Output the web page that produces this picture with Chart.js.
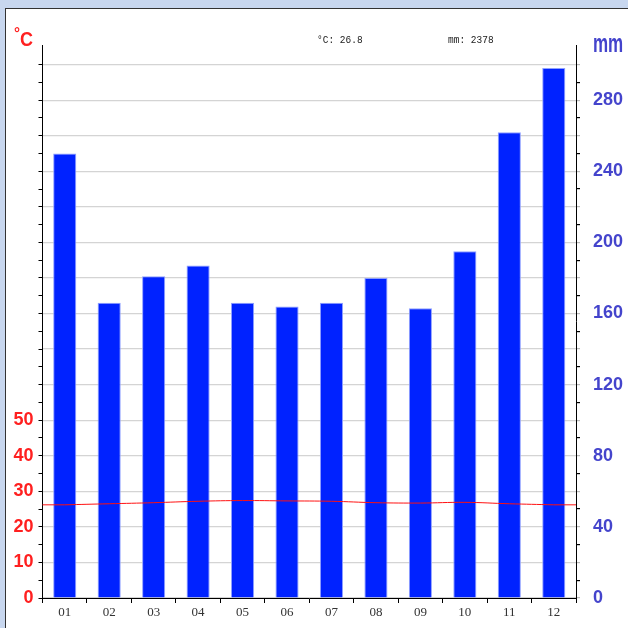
<!DOCTYPE html>
<html>
<head>
<meta charset="utf-8">
<title>Climate chart</title>
<script src="https://cdn.jsdelivr.net/npm/chart.js@4/dist/chart.umd.min.js"></script>
<style>
  html, body { margin: 0; padding: 0; }
  body { width: 628px; height: 628px; background: #c8d7ef; position: relative; overflow: hidden; }
  #panel { position: absolute; left: 5px; top: 8px; right: 0; bottom: 0; background: #fff;
           border-left: 1px solid #333; border-top: 1px solid #333; }
  #climate-chart { position: absolute; left: 0; top: 0; }
</style>
</head>
<body>
<div id="panel"></div>
<canvas id="climate-chart" width="628" height="628"></canvas>
<script>
'use strict';

// Data
var months = ['01', '02', '03', '04', '05', '06', '07', '08', '09', '10', '11', '12'];
var rainfall = [250, 166, 181, 187, 166, 164, 166, 180, 163, 195, 262, 298];
var temperature = [26.2, 26.5, 26.8, 27.2, 27.4, 27.3, 27.2, 26.8, 26.7, 26.9, 26.5, 26.2];
var tempLabels = [0, 10, 20, 30, 40, 50];
var rainLabels = [0, 40, 80, 120, 160, 200, 240, 280];

var totalRain = 0;
var sumTemp = 0;
for (var i = 0; i < months.length; i++) {
  totalRain += rainfall[i];
  sumTemp += temperature[i];
}
var meanTemp = (sumTemp / months.length).toFixed(1);

var labelFont = { family: "'Liberation Sans', Arial, sans-serif", size: 18, weight: 'bold' };

// Titles, summary and the flat ends of the temperature line
var extrasPlugin = {
  id: 'extras',
  afterDatasetsDraw: function(chart) {
    var c = chart.ctx;
    var area = chart.chartArea;
    var pts = chart.getDatasetMeta(1).data;
    c.save();
    c.strokeStyle = '#ff1010';
    c.lineWidth = 1;
    c.beginPath();
    c.moveTo(area.left, pts[0].y);
    c.lineTo(pts[0].x, pts[0].y);
    c.moveTo(pts[pts.length - 1].x, pts[pts.length - 1].y);
    c.lineTo(area.right, pts[pts.length - 1].y);
    c.stroke();
    c.restore();
  },
  afterDraw: function(chart) {
    var c = chart.ctx;
    c.save();
    c.textBaseline = 'alphabetic';

    // °C title
    c.fillStyle = '#ff2020';
    c.font = "bold 15px 'Liberation Sans', sans-serif";
    c.fillText('\u00b0', 14, 38);
    c.font = "bold 20px 'Liberation Sans', sans-serif";
    c.save();
    c.translate(20, 46);
    c.scale(0.9, 1.05);
    c.fillText('C', 0, 0);
    c.restore();

    // mm title
    c.fillStyle = '#4444cc';
    c.font = "bold 17px 'Liberation Sans', sans-serif";
    c.save();
    c.translate(593, 52);
    c.scale(1, 1.5);
    c.fillText('mm', 0, 0);
    c.restore();

    // summary line
    c.fillStyle = '#222';
    c.font = "9.5px 'Liberation Mono', monospace";
    c.save();
    c.translate(317, 43);
    c.scale(1, 1.2);
    c.fillText('\u00b0C: ' + meanTemp, 0, 0);
    c.restore();
    c.save();
    c.translate(448, 43);
    c.scale(1, 1.2);
    c.fillText('mm: ' + totalRain, 0, 0);
    c.restore();
    c.restore();
  }
};

var ctx = document.getElementById('climate-chart').getContext('2d');

var climateChart = new Chart(ctx, {
  type: 'bar',
  data: {
    labels: months,
    datasets: [
      {
        label: 'mm',
        data: rainfall,
        yAxisID: 'y1',
        backgroundColor: '#0022ff',
        borderColor: '#8fa0ff',
        borderWidth: 1,
        categoryPercentage: 1,
        barPercentage: 0.52,
        order: 1
      },
      {
        type: 'line',
        label: '°C',
        data: temperature,
        yAxisID: 'y',
        borderColor: '#ff1010',
        borderWidth: 1,
        pointRadius: 0,
        tension: 0.4,
        fill: false,
        order: 0
      }
    ]
  },
  options: {
    responsive: false,
    animation: false,
    layout: { padding: { top: 45, left: 0, right: 0, bottom: 0 } },
    plugins: {
      legend: { display: false },
      tooltip: { enabled: false }
    },
    scales: {
      x: {
        offset: true,
        afterFit: function(scale) { scale.height = 30; },
        border: { color: '#000', width: 1 },
        grid: { offset: true, drawOnChartArea: false, tickLength: 5, tickColor: '#000' },
        ticks: {
          color: '#333',
          padding: 2,
          font: { family: "'Liberation Serif', serif", size: 13 }
        }
      },
      y: {
        position: 'left',
        min: 0,
        max: 155.5,
        afterFit: function(scale) { scale.width = 42.5; },
        afterBuildTicks: function(scale) {
          scale.ticks = scale.ticks.filter(function(t) { return t.value <= 150; });
        },
        border: { color: '#000', width: 1 },
        grid: { drawOnChartArea: false, tickLength: 4, tickColor: '#000' },
        ticks: {
          stepSize: 5,
          autoSkip: false,
          padding: 5,
          color: '#ff2020',
          font: labelFont,
          callback: function(value) {
            return tempLabels.indexOf(value) >= 0 ? String(value) : '';
          }
        }
      },
      y1: {
        position: 'right',
        min: 0,
        max: 311,
        afterFit: function(scale) { scale.width = 52; },
        afterBuildTicks: function(scale) {
          scale.ticks = scale.ticks.filter(function(t) { return t.value <= 300; });
        },
        border: { color: '#000', width: 1 },
        grid: {
          drawOnChartArea: true,
          tickLength: 4,
          lineWidth: 1.2,
          color: function(c) {
            return c.tick && c.tick.value % 20 === 0 ? '#d4d4d4' : 'rgba(0,0,0,0)';
          },
          tickColor: function(c) {
            return c.tick && c.tick.value % 20 === 0 ? '#bbbbbb' : '#000';
          }
        },
        ticks: {
          stepSize: 10,
          autoSkip: false,
          padding: 13,
          color: '#4444cc',
          font: labelFont,
          callback: function(value) {
            return rainLabels.indexOf(value) >= 0 ? String(value) : '';
          }
        }
      }
    }
  },
  plugins: [extrasPlugin]
});
</script>
</body>
</html>
